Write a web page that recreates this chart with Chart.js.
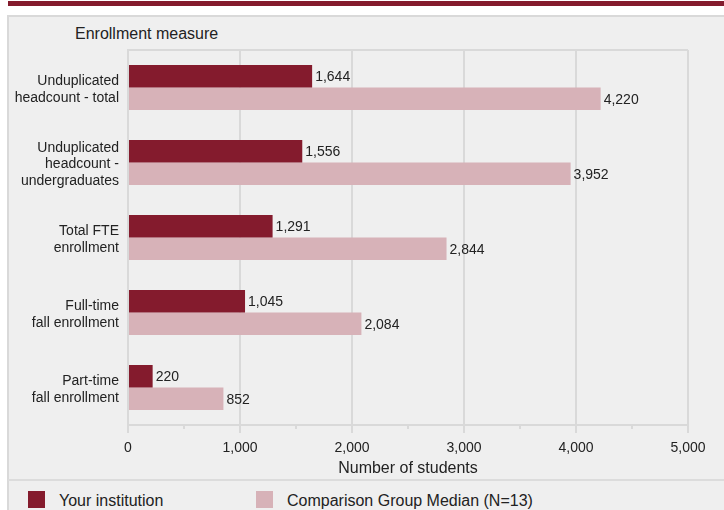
<!DOCTYPE html>
<html>
<head>
<meta charset="utf-8">
<script src="https://cdn.jsdelivr.net/npm/chart.js@4.4.1/dist/chart.umd.min.js"></script>
<style>
  html, body { margin: 0; padding: 0; background: #ffffff; }
  body { width: 724px; height: 510px; position: relative; overflow: hidden; font-family: "Liberation Sans", Arial, sans-serif; color: #222; }
  #band { position: absolute; left: 8px; top: 1px; width: 716px; height: 5px; background: #841b2d; }
  #panel { position: absolute; left: 7px; top: 15px; width: 717px; height: 495px; background: #efefef; border-top: 2px solid #d9d9d9; border-left: 2px solid #d9d9d9; box-sizing: border-box; }
  #sep { position: absolute; left: 8px; top: 479px; width: 716px; height: 2px; background: #dcdcdc; }
  #wrap { position: absolute; left: 0; top: 0; width: 724px; height: 480px; }
  #ytitle { position: absolute; left: 75px; top: 25px; font-size: 16px; white-space: nowrap; }
  .leg { position: absolute; top: 491px; height: 17px; font-size: 16px; line-height: 17px; white-space: nowrap; }
  .leg i { position: absolute; left: 0; top: 0; width: 17px; height: 17px; }
  .leg span { position: absolute; left: 31px; top: 1px; }
</style>
</head>
<body>
<div id="band"></div>
<div id="panel"></div>
<div id="sep"></div>
<div id="ytitle">Enrollment measure</div>
<div id="wrap"><canvas id="c"></canvas></div>
<div class="leg" style="left:28px"><i style="background:#841b2d"></i><span>Your institution</span></div>
<div class="leg" style="left:256px"><i style="background:#d7b2b8"></i><span>Comparison Group Median (N=13)</span></div>
<script>
const categories = [
  ["Unduplicated", "headcount - total"],
  ["Unduplicated", "headcount -", "undergraduates"],
  ["Total FTE", "enrollment"],
  ["Full-time", "fall enrollment"],
  ["Part-time", "fall enrollment"]
];
const seriesNames = ["Your institution", "Comparison Group Median (N=13)"];
const yourInstitution = [1644, 1556, 1291, 1045, 220];
const comparisonMedian = [4220, 3952, 2844, 2084, 852];
const xTicks = [0, 1000, 2000, 3000, 4000, 5000];
const xMinorTicks = [500, 1500, 2500, 3500, 4500];

const fmt = v => Number(v).toLocaleString('en-US');
const FONT = '"Liberation Sans", Arial, sans-serif';
const GRID = '#d9d9d9';

const framePlugin = {
  id: 'frame',
  afterDraw(chart) {
    const { ctx, chartArea: a, scales } = chart;
    ctx.save();
    ctx.strokeStyle = GRID;
    ctx.lineWidth = 2;
    ctx.beginPath();
    ctx.moveTo(a.left, a.top);
    ctx.lineTo(a.right, a.top);
    ctx.stroke();
    ctx.beginPath();
    xMinorTicks.forEach(v => {
      const x = scales.x.getPixelForValue(v);
      ctx.moveTo(x, a.bottom);
      ctx.lineTo(x, a.bottom + 4);
    });
    ctx.stroke();
    ctx.restore();
  }
};

const labelPlugin = {
  id: 'vlabels',
  afterDatasetsDraw(chart) {
    const { ctx } = chart;
    ctx.save();
    ctx.font = '14px ' + FONT;
    ctx.fillStyle = '#222';
    ctx.textAlign = 'left';
    ctx.textBaseline = 'middle';
    chart.data.datasets.forEach((ds, i) => {
      chart.getDatasetMeta(i).data.forEach((bar, j) => {
        ctx.fillText(fmt(ds.data[j]), bar.x + 3, bar.y + 1);
      });
    });
    ctx.restore();
  }
};

new Chart(document.getElementById('c'), {
  type: 'bar',
  data: {
    labels: categories,
    datasets: [
      { label: seriesNames[0], data: yourInstitution, backgroundColor: '#841b2d' },
      { label: seriesNames[1], data: comparisonMedian, backgroundColor: '#d7b2b8' }
    ]
  },
  options: {
    indexAxis: 'y',
    responsive: true,
    maintainAspectRatio: false,
    animation: false,
    datasets: { bar: { categoryPercentage: 0.6, barPercentage: 1.0 } },
    layout: { padding: { top: 50, right: 36, left: 0, bottom: 0 } },
    plugins: {
      legend: { display: false },
      tooltip: { enabled: false },
      title: { display: false }
    },
    scales: {
      x: {
        type: 'linear',
        min: xTicks[0],
        max: xTicks[xTicks.length - 1],
        afterBuildTicks(scale) { scale.ticks = xTicks.map(v => ({ value: v })); },
        afterFit(scale) { scale.height = 55; },
        ticks: { callback: v => fmt(v), font: { size: 14, family: FONT }, color: '#222', padding: 7, maxRotation: 0 },
        grid: { color: GRID, lineWidth: 2, tickLength: 8, drawTicks: true },
        border: { display: true, color: GRID, width: 2 },
        title: { display: true, text: 'Number of students', font: { size: 16, family: FONT }, color: '#222', padding: { top: 2, bottom: 2 } }
      },
      y: {
        afterFit(scale) { scale.width = 128; },
        ticks: { font: { size: 14, family: FONT, lineHeight: 1.2 }, color: '#222', padding: 9, labelOffset: 2 },
        grid: { display: false, drawTicks: false },
        border: { display: true, color: GRID, width: 2 }
      }
    }
  },
  plugins: [framePlugin, labelPlugin]
});
</script>
</body>
</html>
